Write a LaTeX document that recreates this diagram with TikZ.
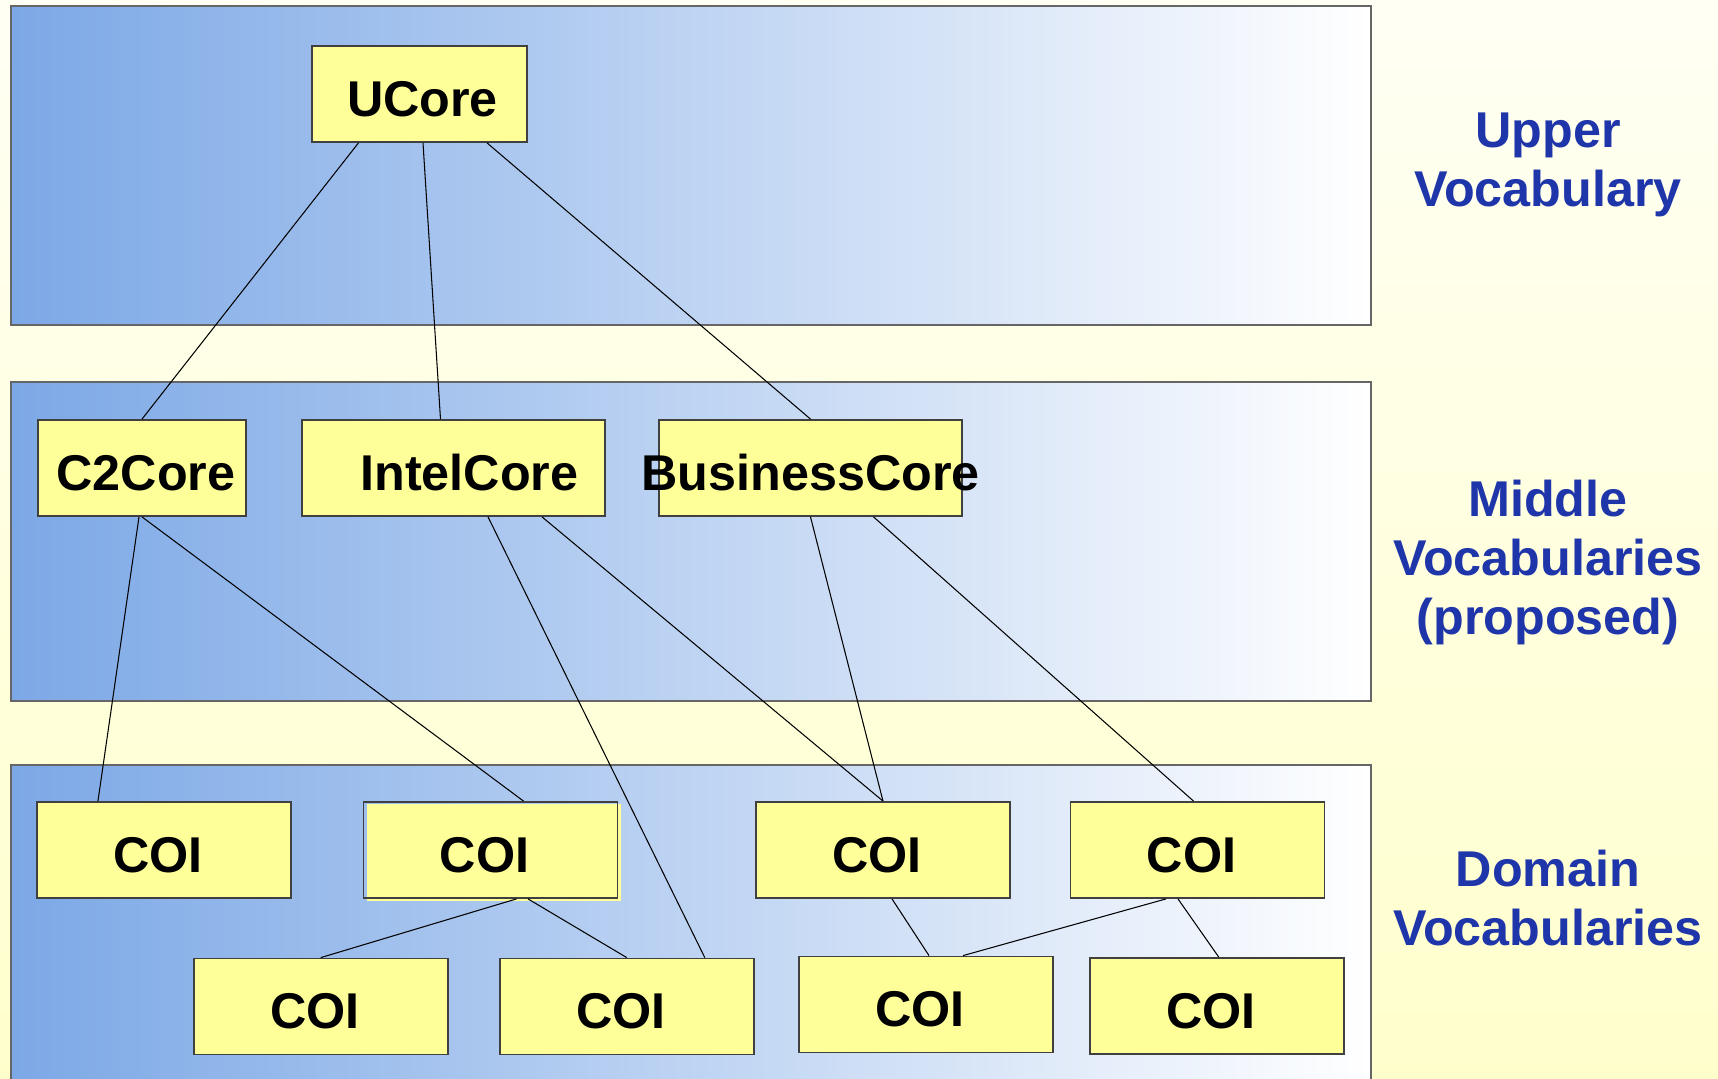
\documentclass[tikz,border=0pt]{standalone}
\usepackage{fontspec}
\setmainfont{Liberation Sans}
\definecolor{bandblue}{RGB}{124,168,230}
\definecolor{boxyellow}{RGB}{255,255,153}
\definecolor{tierblue}{RGB}{31,53,170}
\definecolor{creamtop}{RGB}{255,255,244}
\definecolor{creambottom}{RGB}{255,255,204}

\begin{document}
\begin{tikzpicture}[
    x=0.01cm, y=-0.01cm,
    band/.style={draw=black!60, line width=0.5pt, left color=bandblue, right color=white},
    core/.style={rectangle, draw=black!75, line width=0.5pt, fill=boxyellow, minimum height=0.96cm, inner sep=0pt, text height=0.44cm, text depth=0pt, font=\fontsize{14.3}{17}\selectfont\bfseries},
    coi/.style={core, minimum width=2.54cm, execute at end node=\hspace*{0.12cm}},
    tier/.style={align=center, text=tierblue, font=\fontsize{14.3}{16.7}\selectfont\bfseries},
    link/.style={line width=0.3pt}
]
    % Page and background
    \clip (0,0) rectangle (1718,1079);
    \shade[top color=creamtop, bottom color=creambottom] (0,0) rectangle (1718,1079);

    % Three vocabulary bands
    \shadedraw[band] (11,6) rectangle (1371,325);
    \shadedraw[band] (11,382) rectangle (1371,701);
    \shadedraw[band] (11,765) rectangle (1371,1090);

    % Upper vocabulary
    \node[core, minimum width=2.15cm] (ucore) at (419.5,94) {\hspace*{0.06cm}UCore};

    % Middle vocabularies
    \node[core, minimum width=2.08cm] (c2core) at (142,468) {\hspace*{0.08cm}C2Core};
    \node[core, minimum width=3.03cm] (intelcore) at (453.5,468) {\hspace*{0.32cm}IntelCore};
    \node[core, minimum width=3.03cm] (businesscore) at (810.5,468) {\makebox[0pt]{BusinessCore}};

    % Domain vocabularies, first row
    \node[coi] (coi1) at (164,850) {COI};
    \fill[boxyellow] (367,804) rectangle (621,901);
    \node[coi, fill=none] (coi2) at (490.5,850) {COI};
    \node[coi] (coi3) at (883,850) {COI};
    \node[coi] (coi4) at (1197.5,850) {COI};

    % Domain vocabularies, second row
    \node[coi] (coi5) at (320.75,1006.5) {COI};
    \node[coi] (coi6) at (626.75,1006.5) {COI};
    \node[coi] (coi7) at (926,1004.5) {COI};
    \node[coi] (coi8) at (1216.75,1006) {COI};

    % Upper to middle
    \draw[link] ([xshift=-0.61cm]ucore.south) -- (c2core.north);
    \draw[link] ([xshift=0.035cm]ucore.south) -- ([xshift=-0.13cm]intelcore.north);
    \draw[link] ([xshift=0.675cm]ucore.south) -- (businesscore.north);

    % Middle to domain
    \draw[link] ([xshift=-0.03cm]c2core.south) -- ([xshift=-0.66cm]coi1.north);
    \draw[link] (c2core.south) -- ([xshift=0.33cm]coi2.north);
    \draw[link] ([xshift=0.345cm]intelcore.south) -- ([xshift=0.78cm]coi6.north);
    \draw[link] ([xshift=0.885cm]intelcore.south) -- (coi3.north);
    \draw[link] (businesscore.south) -- (coi3.north);
    \draw[link] ([xshift=0.63cm]businesscore.south) -- ([xshift=-0.04cm]coi4.north);

    % Within the domain band
    \draw[link] ([xshift=0.26cm]coi2.south) -- (coi5.north);
    \draw[link] ([xshift=0.375cm]coi2.south) -- (coi6.north);
    \draw[link] ([xshift=0.09cm]coi3.south) -- ([xshift=0.03cm]coi7.north);
    \draw[link] ([xshift=-0.315cm]coi4.south) -- ([xshift=0.37cm]coi7.north);
    \draw[link] ([xshift=-0.195cm]coi4.south) -- ([xshift=0.02cm]coi8.north);

    % Tier labels (anchored on the last line)
    \node[tier, anchor=base] (upperlabel) at (1548,206) {Upper\\Vocabulary};
    \node[tier, anchor=base] (middlelabel) at (1548,634) {Middle\\Vocabularies\\(proposed)};
    \node[tier, anchor=base] (domainlabel) at (1548,945) {Domain\\Vocabularies};
\end{tikzpicture}
\end{document}
